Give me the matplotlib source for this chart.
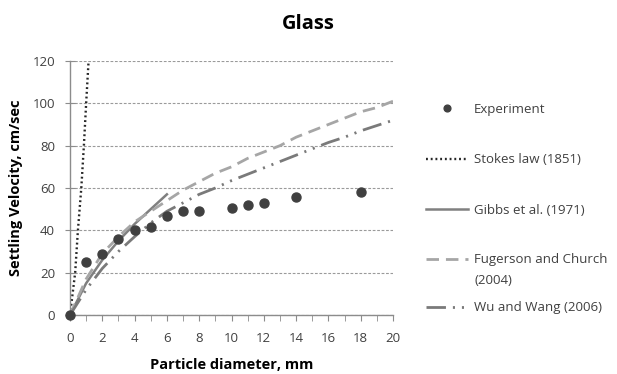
import matplotlib
matplotlib.use("Agg")
import matplotlib.pyplot as plt

plt.rcParams['font.family'] = ['Open Sans', 'DejaVu Sans']

# Data
exp_d = [0, 1, 2, 3, 4, 5, 6, 7, 8, 10, 11, 12, 14, 18]
exp_v = [0, 25.2, 28.7, 35.7, 40.1, 41.7, 46.8, 49.1, 49.1, 50.4, 52.0, 53.1, 55.6, 58.0]

stokes_d = [0, 0.32, 0.49, 0.70, 0.86, 1.0, 1.15]
stokes_v = [0, 20, 40, 60, 80, 100, 120]

gibbs_d = [0, 1, 2, 3, 4, 5, 6]
gibbs_v = [0, 15, 26, 35, 43, 50, 57]

model_d = list(range(0, 21))
fug_v = [0, 17, 29, 37, 44, 49, 54, 59, 63, 67, 70, 74, 77, 80, 84, 87, 90, 93, 96, 98, 101]
wu_v = [0, 12, 22, 30, 37, 43.5, 49, 53, 57, 60, 63.5, 66.5, 69.5, 72.5, 75.5, 78.5, 81.5, 84, 87, 89.5, 92]

labels = ["Experiment", "Stokes law (1851)", "Gibbs et al. (1971)",
          "Fugerson and Church", "Wu and Wang (2006)"]
label_extra = "(2004)"

W, H = 617, 374
fig = plt.figure(figsize=(W / 100, H / 100), dpi=100)
ax = fig.add_axes([70 / W, 1 - 315 / H, (393 - 70) / W, (315 - 61) / H])

ax.set_xlim(0, 20)
ax.set_ylim(0, 120)
ax.set_yticks(range(0, 121, 20))
ax.set_xticks(range(0, 21, 2))
ax.set_xticks(range(0, 21, 1), minor=True)
ax.yaxis.grid(True, color='#9a9a9a', linestyle=(0, (2.5, 1.5)), linewidth=0.8)
ax.set_axisbelow(True)
for s in ['top', 'right']:
    ax.spines[s].set_visible(False)
for s in ['left', 'bottom']:
    ax.spines[s].set_color('#8c8c8c')
    ax.spines[s].set_linewidth(1.0)
ax.tick_params(axis='x', which='both', direction='out', length=4.5, color='#8c8c8c',
               labelsize=9.5, labelcolor='#404040', pad=8)
ax.tick_params(axis='x', which='minor', labelbottom=False)
ax.tick_params(axis='y', direction='inout', length=6.5, color='#8c8c8c',
               labelsize=9.5, labelcolor='#404040', pad=7.5)

l_stokes, = ax.plot(stokes_d, stokes_v, color='#262626', linestyle=(0, (0.8, 1.2)),
                    linewidth=1.7)
l_gibbs, = ax.plot(gibbs_d, gibbs_v, color='#808080', linewidth=1.8)
l_fug, = ax.plot(model_d, fug_v, color='#a6a6a6', linewidth=2,
                 dashes=(4.5, 2.5))
l_wu, = ax.plot(model_d, wu_v, color='#7a7a7a', linewidth=2,
                dashes=(7, 2.5, 0.75, 2.5, 0.75, 2.5))
l_exp, = ax.plot(exp_d, exp_v, linestyle='none', marker='o', markersize=6.5,
                 color='#404040', clip_on=False, zorder=5)

ax.set_xlabel("Particle diameter, mm", fontsize=10.5, fontweight='bold', labelpad=9)
ax.set_ylabel("Settling Velocity, cm/sec", fontsize=10.5, fontweight='bold', labelpad=7)
fig.text(308 / W, 1 - 24 / H, "Glass", ha='center', va='center', fontsize=14.5,
         fontweight='bold')

# Legend: one entry per row, placed like the reference
handles = [l_exp, l_stokes, l_gibbs, l_fug, l_wu]
rows_y = [109, 160, 210, 260, 308]
for h, lab, yc in zip(handles, labels, rows_y):
    fig.legend([h], [lab], loc='center left',
               bbox_to_anchor=(426 / W, 1 - yc / H), frameon=False,
               fontsize=9.5, handlelength=3.2, handletextpad=0.42,
               borderpad=0, borderaxespad=0, markerscale=0.75,
               labelcolor='#404040')
fig.text(475 / W, 1 - 280 / H, label_extra, ha='left', va='center',
         fontsize=9.5, color='#404040')

fig.savefig("out.png", dpi=100)
